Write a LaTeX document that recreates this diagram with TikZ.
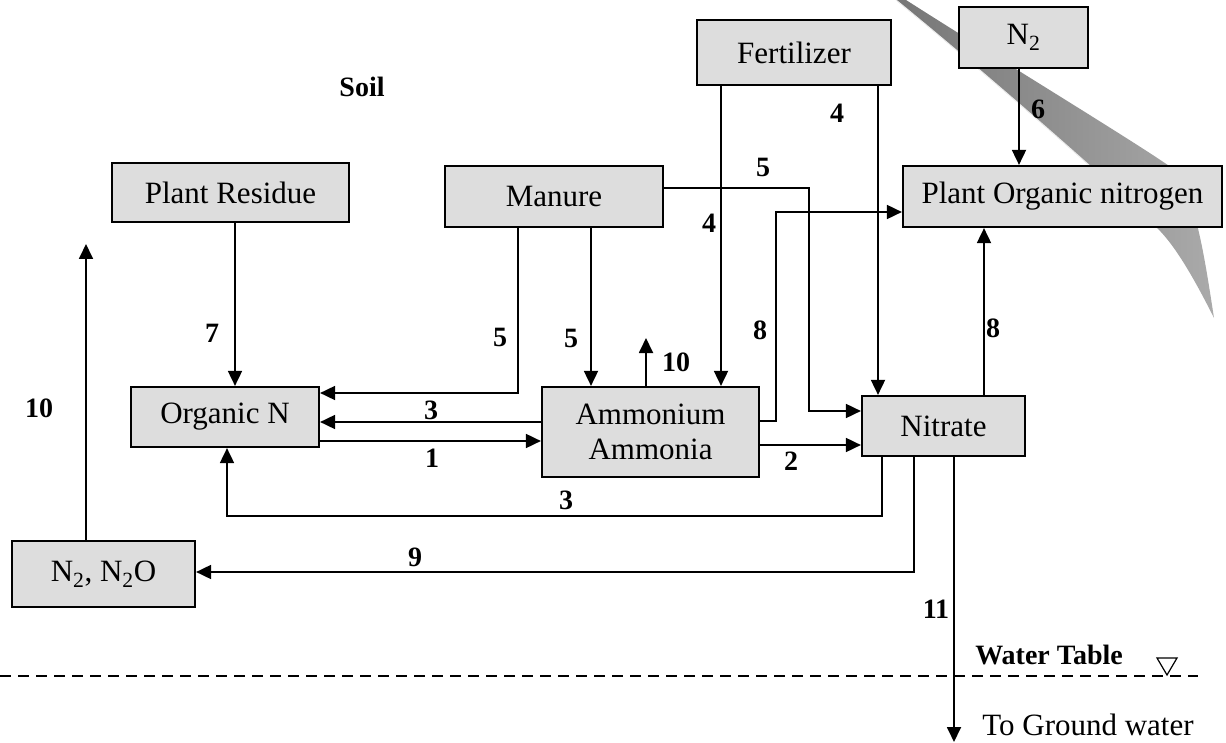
\documentclass[tikz,border=0pt]{standalone}
\usepackage{fontspec}
\setmainfont{Liberation Serif}
\usetikzlibrary{arrows.meta,calc}
\definecolor{boxfill}{RGB}{221,221,221}
\definecolor{curldark}{RGB}{118,118,118}
\definecolor{curllight}{RGB}{170,170,170}
\begin{document}
\begin{tikzpicture}[x=1pt,y=-1pt,
  box/.style={draw, line width=2.2pt, fill=boxfill, inner sep=0pt, align=center, font=\fontsize{31}{35}\selectfont},
  conn/.style={line width=1.8pt, -{Triangle[length=15pt,width=14pt]}},
  lbl/.style={font=\bfseries\fontsize{28}{30}\selectfont, inner sep=0pt},
  txt/.style={font=\fontsize{31}{35}\selectfont, inner sep=0pt},
]
\useasboundingbox (0,0) rectangle (1226,743);
% page-curl shadow
\shade[left color=curldark, right color=curllight] (896,0) -- (906,0) .. controls (1000,60) and (1140,145) .. (1172,168)
  .. controls (1195,190) and (1205,260) .. (1214,318)
  .. controls (1195,280) and (1175,245) .. (1157,228)
  .. controls (1130,200) and (1000,85) .. cycle;
\draw[white!85!gray, line width=1pt] (896,0) .. controls (1000,85) and (1130,200) .. (1157,228);

% boxes
\node[box, minimum width=194pt, minimum height=65pt] (fert) at (794,52.5) {Fertilizer};
\node[box, minimum width=129pt, minimum height=61pt] (n2) at (1023.5,37.5) {N\textsubscript{2}};
\node[box, minimum width=319pt, minimum height=61pt] (pon) at (1062.5,196.5) {Plant Organic nitrogen};
\node[box, minimum width=237pt, minimum height=59pt] (res) at (230.5,192.5) {Plant Residue};
\node[box, minimum width=218pt, minimum height=61pt] (man) at (554,196.5) {Manure};
\node[box, minimum width=188pt, minimum height=60pt] (orgn) at (225,417) {Organic N};
\node[box, minimum width=183pt, minimum height=66pt] (n2o) at (103.5,574) {N\textsubscript{2}, N\textsubscript{2}O};
\node[box, minimum width=217pt, minimum height=90pt] (amm) at (650.5,432) {Ammonium\\Ammonia};
\node[box, minimum width=163pt, minimum height=60pt] (nit) at (943.5,426) {Nitrate};

% free ends
\coordinate (up10) at (646,338);
\coordinate (upleft) at (86,244);
\coordinate (gw) at (954,742);
\coordinate (wl) at (0,676);
\coordinate (wr) at (1198,676);

% connectors
\draw[conn] (fert.south -| 721,0) -- (amm.north -| 721,0);
\draw[conn] (fert.south -| 878,0) -- (nit.north -| 878,0);
\draw[conn] (n2.south -| 1019,0) -- (pon.north -| 1019,0);
\draw[conn] (man.east |- 0,188) -| (809,411) -- (nit.west |- 0,411);
\draw[conn] (man.south -| 518,0) |- (orgn.east |- 0,393);
\draw[conn] (man.south -| 591,0) -- (amm.north -| 591,0);
\draw[conn] (amm.east |- 0,421) -| (776,212) -- (pon.west |- 0,212);
\draw[conn] (amm.north -| 646,0) -- (up10);
\draw[conn] (amm.west |- 0,422) -- (orgn.east |- 0,422);
\draw[conn] (orgn.east |- 0,441) -- (amm.west |- 0,441);
\draw[conn] (amm.east |- 0,445) -- (nit.west |- 0,445);
\draw[conn] (nit.north -| 984,0) -- (pon.south -| 984,0);
\draw[conn] (nit.south -| 882,0) |- (227,516) -- (orgn.south -| 227,0);
\draw[conn] (nit.south -| 914,0) |- (n2o.east |- 0,572);
\draw[conn] (nit.south -| 954,0) -- (gw);
\draw[conn] (n2o.north -| 86,0) -- (upleft);
\draw[conn] (res.south -| 235,0) -- (orgn.north -| 235,0);

% water table
\draw[line width=1.5pt, dash pattern=on 11pt off 7pt] (wl) -- (wr);
\draw[line width=1.2pt] (1157,658) -- (1177,658) -- (1167,675) -- cycle;

% labels
\node[lbl] at (362,87) {Soil};
\node[lbl] at (837,113) {4};
\node[lbl] at (763,167) {5};
\node[lbl] at (1038,109) {6};
\node[lbl] at (709,223) {4};
\node[lbl] at (760,330) {8};
\node[lbl] at (500,337) {5};
\node[lbl] at (571,338) {5};
\node[lbl] at (676,362) {10};
\node[lbl] at (993,328) {8};
\node[lbl] at (212,333) {7};
\node[lbl] at (39,408) {10};
\node[lbl] at (431,410) {3};
\node[lbl] at (432,458) {1};
\node[lbl] at (791,461) {2};
\node[lbl] at (566,500) {3};
\node[lbl] at (415,557) {9};
\node[lbl] at (936,609) {11};
\node[lbl] at (1049,655) {Water Table};
\node[txt] at (1088,725) {To Ground water};
\end{tikzpicture}
\end{document}
